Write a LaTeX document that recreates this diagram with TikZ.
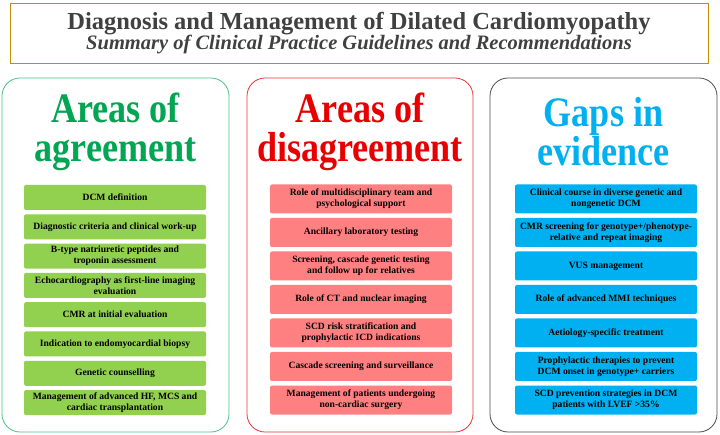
\documentclass[tikz,border=0pt]{standalone}
\usepackage{fontspec}
\setmainfont{Liberation Serif}
\usetikzlibrary{positioning}
\definecolor{agreeG}{RGB}{146,208,80}
\definecolor{agreeT}{RGB}{0,166,81}
\definecolor{disR}{RGB}{255,128,128}
\definecolor{disT}{RGB}{232,0,0}
\definecolor{gapB}{RGB}{0,176,240}
\definecolor{titleGold}{RGB}{191,144,0}
\definecolor{titleText}{RGB}{64,64,64}
\tikzset{
  panel/.style={ % big rounded column
    draw, rounded corners=18pt, line width=0.8pt, fill=white
  },
  heading/.style={
    font=\rmfamily\fontsize{42}{39}\selectfont\bfseries, xscale=0.86, align=center
  },
  item/.style={ % small coloured box of a column
    rounded corners=2pt, minimum width=182pt, align=center,
    font=\rmfamily\fontsize{9.6}{11}\selectfont\bfseries, text=black, inner sep=1pt
  }
}
\begin{document}
\begin{tikzpicture}[x=1pt,y=-1pt]
  \useasboundingbox (0,0) rectangle (720,435);
  % title
  \node[draw=titleGold, line width=0.8pt, minimum width=698pt, minimum height=60pt,
        text=titleText, align=center, font=\rmfamily] (title) at (359,33)
        {{\fontsize{24.5}{26}\selectfont\bfseries Diagnosis and Management of Dilated Cardiomyopathy}\\[-1pt]
         {\fontsize{20.5}{22}\selectfont\bfseries\itshape Summary of Clinical Practice Guidelines and Recommendations}};
  % columns
  \draw[panel, draw=agreeT!70] (2,78) rectangle (229,432);
  \draw[panel, draw=disT!80] (247,78) rectangle (473,432);
  \draw[panel, draw=black!70] (490,78) rectangle (717,432);
  \node[heading, text=agreeT] (hagree) at (115.5,132) {Areas of\\agreement};
  \node[heading, text=disT] (hdis) at (360,132) {Areas of\\disagreement};
  \node[heading, text=gapB] (hgap) at (603.5,132) {Gaps in\\evidence};
  % agreement items
  \foreach \i/\t in {0/DCM definition,
      1/Diagnostic criteria  and clinical work-up,
      2/{B-type natriuretic  peptides and\\troponin  assessment},
      3/{Echocardiography  as first-line  imaging\\evaluation},
      4/CMR at initial  evaluation,
      5/Indication  to endomyocardial  biopsy,
      6/Genetic counselling,
      7/{Management of advanced HF, MCS and\\cardiac  transplantation}}
    \node[item, fill=agreeG, minimum height=25pt] (a\i) at (115,{197.5+29.3*\i}) {\t};
  % disagreement items
  \foreach \i/\t in {0/{Role of multidisciplinary team and\\psychological support},
      1/Ancillary  laboratory  testing,
      2/{Screening, cascade genetic testing\\and follow  up for relatives},
      3/Role of CT  and nuclear imaging,
      4/{SCD risk stratification  and\\prophylactic  ICD indications},
      5/Cascade screening and surveillance,
      6/{Management of patients undergoing\\non-cardiac  surgery}}
    \node[item, fill=disR, minimum height=29pt] (d\i) at (361,{199+33.5*\i}) {\t};
  % gap items
  \foreach \i/\t in {0/{Clinical  course in diverse genetic and\\nongenetic  DCM},
      1/{CMR screening for genotype+/phenotype-\\relative and repeat imaging},
      2/VUS management,
      3/Role of advanced MMI techniques,
      4/Aetiology-specific  treatment,
      5/{Prophylactic  therapies to prevent\\DCM onset in genotype+ carriers},
      6/{SCD prevention  strategies in DCM\\patients with  LVEF >35\%}}
    \node[item, fill=gapB, minimum height=29pt] (g\i) at (606,{199+33.5*\i}) {\t};
\end{tikzpicture}
\end{document}
